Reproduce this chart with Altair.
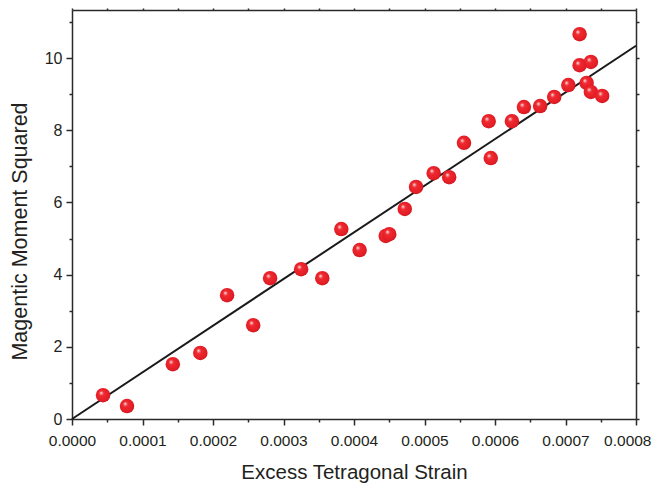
import altair as alt
import pandas as pd

strain = [0.000044, 0.000078, 0.000143, 0.000182, 0.000220, 0.000257, 0.000281,
          0.000325, 0.000355, 0.000382, 0.000408, 0.000445, 0.000450, 0.000472,
          0.000488, 0.000513, 0.000535, 0.000556, 0.000591, 0.000594, 0.000624,
          0.000641, 0.000664, 0.000684, 0.000704, 0.000720, 0.000720, 0.000736,
          0.000730, 0.000736, 0.000752]
moment_sq = [0.66, 0.36, 1.52, 1.83, 3.43, 2.60, 3.90,
             4.15, 3.90, 5.26, 4.68, 5.07, 5.12, 5.82,
             6.43, 6.81, 6.70, 7.65, 8.25, 7.23, 8.25,
             8.64, 8.67, 8.92, 9.25, 10.66, 9.80, 9.89,
             9.31, 9.06, 8.95]
fit_x = [0.0, 0.0008]
fit_y = [0.0, 10.34]

pts = pd.DataFrame({"x": strain, "y": moment_sq})
fit = pd.DataFrame({"x": fit_x, "y": fit_y})

FONT = "Liberation Sans"
AX = "#2a2a2a"
TXT = "#231f20"

xscale = alt.Scale(domain=[0, 0.0008], nice=False, zero=False)
yscale = alt.Scale(domain=[0, 11.33], nice=False, zero=False)

x_vals = [i * 0.00005 for i in range(17)]
y_vals = list(range(12))

LAST = "datum.value > 0.00079"

x_axis = alt.Axis(
    values=x_vals, format=".4f",
    labelExpr="round(datum.value*20000) % 2 === 0 ? datum.label : ''",
    tickSize={"condition": {"test": "round(datum.value*20000) % 2 === 0", "value": 6}, "value": 3},
    labelAlign={"condition": {"test": LAST, "value": "right"}, "value": "center"},
    labelOffset={"condition": {"test": LAST, "value": 15}, "value": 0},
    grid=False, domainColor=AX, domainWidth=1.5, tickColor=AX, tickWidth=1.5,
    labelFont=FONT, labelFontSize=15.5, labelColor=TXT, labelPadding=8,
    labelFlush=False, labelOverlap=False,
    title="Excess Tetragonal Strain", titleFont=FONT, titleFontSize=20.5,
    titleFontWeight="normal", titleColor=TXT, titlePadding=14,
)
y_axis = alt.Axis(
    values=y_vals,
    labelExpr="datum.value % 2 === 0 ? datum.label : ''",
    tickSize={"condition": {"test": "datum.value % 2 === 0", "value": 6}, "value": 3},
    grid=False, domainColor=AX, domainWidth=1.5, tickColor=AX, tickWidth=1.5,
    labelFont=FONT, labelFontSize=16, labelColor=TXT, labelPadding=4,
    labelFlush=False, labelOverlap=False,
    title="Magentic Moment Squared", titleFont=FONT, titleFontSize=21.5,
    titleFontWeight="normal", titleColor=TXT,
    titleX=-52, titleY=221, titleBaseline="middle", titleAlign="center", titleAngle=270,
)
x_top = alt.Axis(values=x_vals, labels=False, title=None, orient="top", grid=False,
                 tickSize=2, domainColor=AX, domainWidth=1.5, tickColor=AX, tickWidth=1.5)
y_right = alt.Axis(values=y_vals, labels=False, title=None, orient="right", grid=False,
                   tickSize=3, domainColor=AX, domainWidth=1.5, tickColor=AX, tickWidth=1.5)

sphere = {
    "gradient": "radial",
    "x1": 0.36, "y1": 0.33, "r1": 0.0,
    "x2": 0.48, "y2": 0.48, "r2": 0.55,
    "stops": [
        {"offset": 0.0, "color": "#ffffff"},
        {"offset": 0.12, "color": "#f7a0a3"},
        {"offset": 0.3, "color": "#ee2a30"},
        {"offset": 0.8, "color": "#e51d26"},
        {"offset": 1.0, "color": "#c4161e"},
    ],
}

line = alt.Chart(fit).mark_line(color="#1a1a1a", strokeWidth=2).encode(
    x=alt.X("x:Q", scale=xscale, axis=x_axis),
    y=alt.Y("y:Q", scale=yscale, axis=y_axis),
)
points = alt.Chart(pts).mark_circle(size=210, opacity=1, fill=sphere, stroke=None).encode(
    x=alt.X("x:Q", scale=xscale, axis=x_top),
    y=alt.Y("y:Q", scale=yscale, axis=y_right),
)

chart = alt.layer(line, points).resolve_axis(x="independent", y="independent").properties(
    width=564, height=409,
    autosize=alt.AutoSizeParams(type="none"),
    padding={"left": 64, "top": 2, "right": 16, "bottom": 66},
).configure_view(stroke=None).configure(background="white")

chart.save("out.html", embed_options={"renderer": "svg", "actions": False})
